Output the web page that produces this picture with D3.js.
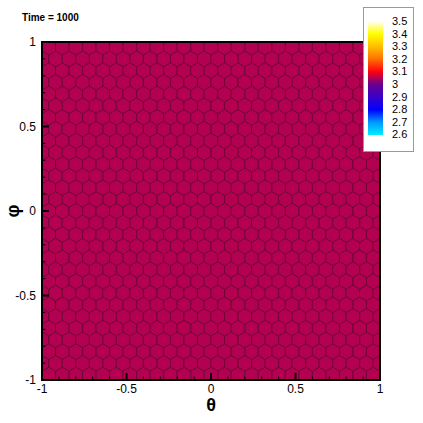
<!DOCTYPE html>
<html><head><meta charset="utf-8">
<script src="https://cdn.jsdelivr.net/npm/d3@7"></script>
<style>body{margin:0;background:#fff}svg{display:block;font-family:"Liberation Sans",Arial,sans-serif}</style>
</head><body>
<svg id="c" width="423" height="423"></svg>
<script>
// ---- data ----
const titleText = "Time = 1000";
const xTicks = [-1, -0.5, 0, 0.5, 1];
const yTicks = [-1, -0.5, 0, 0.5, 1];
const minorTicks = [-0.9,-0.8,-0.7,-0.6,-0.4,-0.3,-0.2,-0.1,0.1,0.2,0.3,0.4,0.6,0.7,0.8,0.9];
const legendTicks = [3.5, 3.4, 3.3, 3.2, 3.1, 3, 2.9, 2.8, 2.7, 2.6];
const cmapValues = [2.6, 2.7, 2.8, 2.9, 3.0, 3.1, 3.2, 3.3, 3.4, 3.5];
const cmapColors = ["#00eeff","#0099ff","#0000ff","#3a00c8","#6a0090","#ff0010","#ff7000","#ffbf00","#ffff00","#ffffff"];
const cellSpacing = 0.08;          // hex lattice spacing (data units)
const fieldValue = 3.05;           // uniform field value at Time = 1000

// ---- layout ----
const svg = d3.select("#c");
const L = 42, R = 380, T = 42, B = 380;
const x = d3.scaleLinear().domain([-1, 1]).range([L, R]);
const y = d3.scaleLinear().domain([-1, 1]).range([B, T]);
const color = d3.scaleLinear().domain(cmapValues).range(cmapColors);

// hex lattice centers
const pts = [];
const dy = cellSpacing * Math.sqrt(3) / 2;
for (let j = -17; j <= 17; j++) {
  const off = (Math.abs(j) % 2) ? cellSpacing / 2 : 0;
  for (let i = -15; i <= 15; i++) {
    pts.push({px: i * cellSpacing + off, py: j * dy, v: fieldValue});
  }
}
const del = d3.Delaunay.from(pts, d => x(d.px), d => y(d.py));
const vor = del.voronoi([L, T, R, B]);

const cells = svg.append("g");
pts.forEach((p, i) => {
  const path = vor.renderCell(i);
  if (!path) return;
  cells.append("path").attr("d", path)
    .attr("fill", color(p.v))
    .attr("stroke", "#66002e").attr("stroke-width", 0.8);
});

// border
svg.append("rect").attr("x", L).attr("y", T).attr("width", R - L).attr("height", B - T)
  .attr("fill", "none").attr("stroke", "#000").attr("stroke-width", 2);

// ticks (inside)
const tk = svg.append("g").attr("stroke", "#000");
xTicks.forEach(v => tk.append("line").attr("x1", x(v)).attr("x2", x(v)).attr("y1", B).attr("y2", B - 7).attr("stroke-width", 2));
minorTicks.forEach(v => tk.append("line").attr("x1", x(v)).attr("x2", x(v)).attr("y1", B).attr("y2", B - 3.5).attr("stroke-width", 1));
yTicks.forEach(v => tk.append("line").attr("y1", y(v)).attr("y2", y(v)).attr("x1", L).attr("x2", L + 7).attr("stroke-width", 2));
minorTicks.forEach(v => tk.append("line").attr("y1", y(v)).attr("y2", y(v)).attr("x1", L).attr("x2", L + 3.5).attr("stroke-width", 1));

// tick labels
svg.append("g").selectAll("text").data(xTicks).join("text")
  .attr("x", d => x(d)).attr("y", 393).attr("text-anchor", "middle")
  .attr("font-size", 12).text(d => String(d));
svg.append("g").selectAll("text").data(yTicks).join("text")
  .attr("x", 36).attr("y", d => y(d) + 4).attr("text-anchor", "end")
  .attr("font-size", 12).text(d => String(d));

// axis titles
svg.append("text").attr("x", x(0)).attr("y", 411).attr("text-anchor", "middle")
  .attr("font-size", 18).attr("font-weight", "bold").text("θ");
svg.append("text").attr("transform", `translate(13,${y(0)}) rotate(-90)`).attr("text-anchor", "middle")
  .attr("dominant-baseline", "central")
  .attr("font-size", 18).attr("font-weight", "bold").text("φ");

// title
svg.append("text").attr("x", 22).attr("y", 21).attr("font-size", 10).attr("font-weight", "bold").text(titleText);

// legend
svg.append("rect").attr("x", 363.5).attr("y", 7.5).attr("width", 50).attr("height", 144)
  .attr("fill", "#fff").attr("stroke", "#999").attr("stroke-width", 1);
const ly = d3.scaleLinear().domain([2.6, 3.5]).range([135, 21]);
const grad = svg.append("defs").append("linearGradient").attr("id", "g")
  .attr("x1", 0).attr("y1", 1).attr("x2", 0).attr("y2", 0);
cmapValues.forEach((v, i) => grad.append("stop").attr("offset", (v - 2.6) / 0.9).attr("stop-color", cmapColors[i]));
svg.append("rect").attr("x", 368).attr("y", ly(3.5)).attr("width", 15).attr("height", ly(2.6) - ly(3.5)).attr("fill", "url(#g)");
svg.append("g").selectAll("text").data(legendTicks).join("text")
  .attr("x", 392).attr("y", (d, i) => 25 + i * 12.6).attr("font-size", 11).text(d => d);
</script>
</body></html>
